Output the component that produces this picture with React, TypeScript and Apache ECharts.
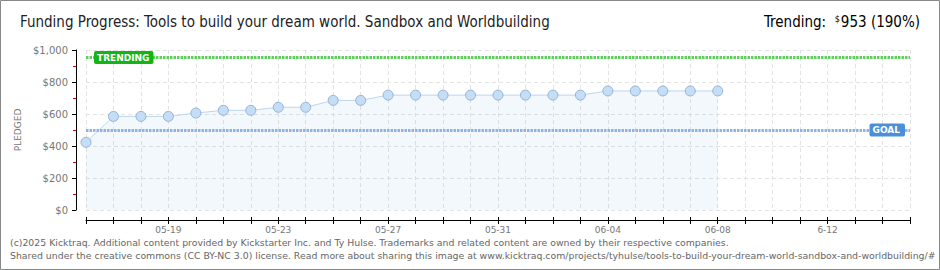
import React, { useEffect, useRef } from "react";
import * as echarts from "echarts";

const categories = [
  "05-16", "05-17", "05-18", "05-19", "05-20", "05-21", "05-22", "05-23",
  "05-24", "05-25", "05-26", "05-27", "05-28", "05-29", "05-30", "05-31",
  "06-01", "06-02", "06-03", "06-04", "06-05", "06-06", "06-07", "06-08",
  "06-09", "06-10", "06-11", "6-12", "06-13", "06-14", "06-15",
];

const pledged = [
  423, 585, 585, 585, 606, 623, 623, 642, 642, 685, 685, 718,
  718, 718, 718, 718, 718, 718, 718, 744, 744, 744, 744, 744,
];

const goal = 500;
const trending = 953;
const trendingPct = 190;
const yTicks = { min: 0, max: 1000, interval: 200 };

const titleText =
  "Funding Progress: Tools to build your dream world. Sandbox and Worldbuilding";
const footerLines = [
  "(c)2025 Kicktraq. Additional content provided by Kickstarter Inc. and Ty Hulse. Trademarks and related content are owned by their respective companies.",
  "Shared under the creative commons (CC BY-NC 3.0) license. Read more about sharing this image at www.kicktraq.com/projects/tyhulse/tools-to-build-your-dream-world-sandbox-and-worldbuilding/#",
];

const pixelFont = "'DejaVu Sans', sans-serif";
const titleFont = "'DejaVu Sans Condensed', Roboto, sans-serif";

export default function App() {
  const ref = useRef<HTMLDivElement>(null);

  useEffect(() => {
    if (!ref.current) return;
    const chart = echarts.init(ref.current, null, { renderer: "svg" });
    const gridStyle = { color: "#e3e3e3", type: [4, 3] as number[], width: 1 };
    chart.setOption({
      animation: false,
      backgroundColor: "#fff",
      grid: { left: 86, right: 30, top: 50, bottom: 60 },
      xAxis: [
        {
          type: "category",
          data: categories,
          boundaryGap: false,
          offset: 10,
          axisLine: { show: true, onZero: false, lineStyle: { color: "#000", width: 1 } },
          axisTick: { show: true, interval: 0, length: 4, lineStyle: { color: "#000" } },
          axisLabel: {
            interval: (i: number) => (i - 3) % 4 === 0,
            color: "#777",
            fontFamily: pixelFont,
            fontSize: 9,
            margin: 5,
          },
          splitLine: { show: true, interval: 0, lineStyle: gridStyle },
        },
        {
          type: "category",
          data: categories,
          boundaryGap: false,
          position: "bottom",
          offset: 10,
          axisLine: { show: false, onZero: false },
          axisTick: { show: true, inside: true, interval: 0, length: 3, lineStyle: { color: "#000" } },
          axisLabel: { show: false },
          splitLine: { show: false },
        },
      ],
      yAxis: {
        type: "value",
        min: yTicks.min,
        max: yTicks.max,
        interval: yTicks.interval,
        offset: 10,
        axisLine: { show: true, lineStyle: { color: "#000", width: 1 } },
        axisTick: { show: true, length: 4, lineStyle: { color: "#000" } },
        minorTick: { show: true, splitNumber: 2, length: 3, lineStyle: { color: "#e00000" } },
        axisLabel: {
          formatter: (v: number) => "$" + v.toLocaleString("en-US"),
          color: "#777",
          fontFamily: pixelFont,
          fontSize: 10,
          margin: 8,
        },
        splitLine: { show: true, lineStyle: gridStyle },
        name: "PLEDGED",
        nameLocation: "middle",
        nameRotate: 90,
        nameGap: 43,
        nameTextStyle: { color: "#777", fontFamily: pixelFont, fontSize: 9 },
      },
      series: [
        {
          type: "line",
          data: pledged,
          symbol: "circle",
          symbolSize: 10,
          itemStyle: { color: "#c6ddf6", borderColor: "#92b3d8", borderWidth: 1 },
          lineStyle: { color: "#bcd5f0", width: 1 },
          areaStyle: { color: "rgba(110,170,235,0.12)" },
          markLine: {
            silent: true,
            symbol: "none",
            data: [
              {
                yAxis: goal,
                lineStyle: { color: "#8fb4df", width: 3, type: [2.5, 1] },
                label: {
                  formatter: "GOAL",
                  position: "insideEnd",
                  distance: 5,
                  color: "#fff",
                  backgroundColor: "#4a8fd8",
                  padding: [2, 5, 2, 3],
                  borderRadius: 2,
                  fontFamily: pixelFont,
                  fontSize: 9,
                  fontWeight: "bold",
                },
              },
              {
                yAxis: trending,
                lineStyle: { color: "#5fcf5f", width: 3, type: [2.5, 1] },
                label: {
                  formatter: "TRENDING",
                  position: "insideStart",
                  distance: 8,
                  color: "#fff",
                  backgroundColor: "#14b414",
                  padding: [2, 4, 2, 3],
                  borderRadius: 2,
                  fontFamily: pixelFont,
                  fontSize: 9,
                  fontWeight: "bold",
                },
              },
            ],
          },
        },
      ],
      graphic: [
        {
          type: "rect",
          shape: { x: 0.5, y: 0.5, width: 939, height: 269 },
          style: { fill: "none", stroke: "#888", lineWidth: 1 },
          silent: true,
        },
        {
          type: "text",
          left: 20,
          top: 14,
          style: { text: titleText, fill: "#222", font: `15px ${titleFont}` },
        },
        {
          type: "text",
          right: 20,
          top: 14,
          style: {
            text: `{a|Trending:  }{s|$}{a|${trending} (${trendingPct}%)}`,
            rich: {
              a: { fontSize: 15, fontFamily: titleFont, color: "#222" },
              s: { fontSize: 9, fontFamily: titleFont, color: "#222", verticalAlign: "top", padding: [0, 1, 6, 0] },
            },
          },
        },
        {
          type: "text",
          left: 10,
          top: 238,
          style: { text: footerLines[0], fill: "#666", font: `9.35px ${pixelFont}` },
        },
        {
          type: "text",
          left: 10,
          top: 251,
          style: { text: footerLines[1], fill: "#666", font: `9.35px ${pixelFont}` },
        },
      ],
    });
    return () => chart.dispose();
  }, []);

  return (
    <div
      ref={ref}
      style={{ position: "fixed", left: 0, top: 0, width: 940, height: 270 }}
    />
  );
}
